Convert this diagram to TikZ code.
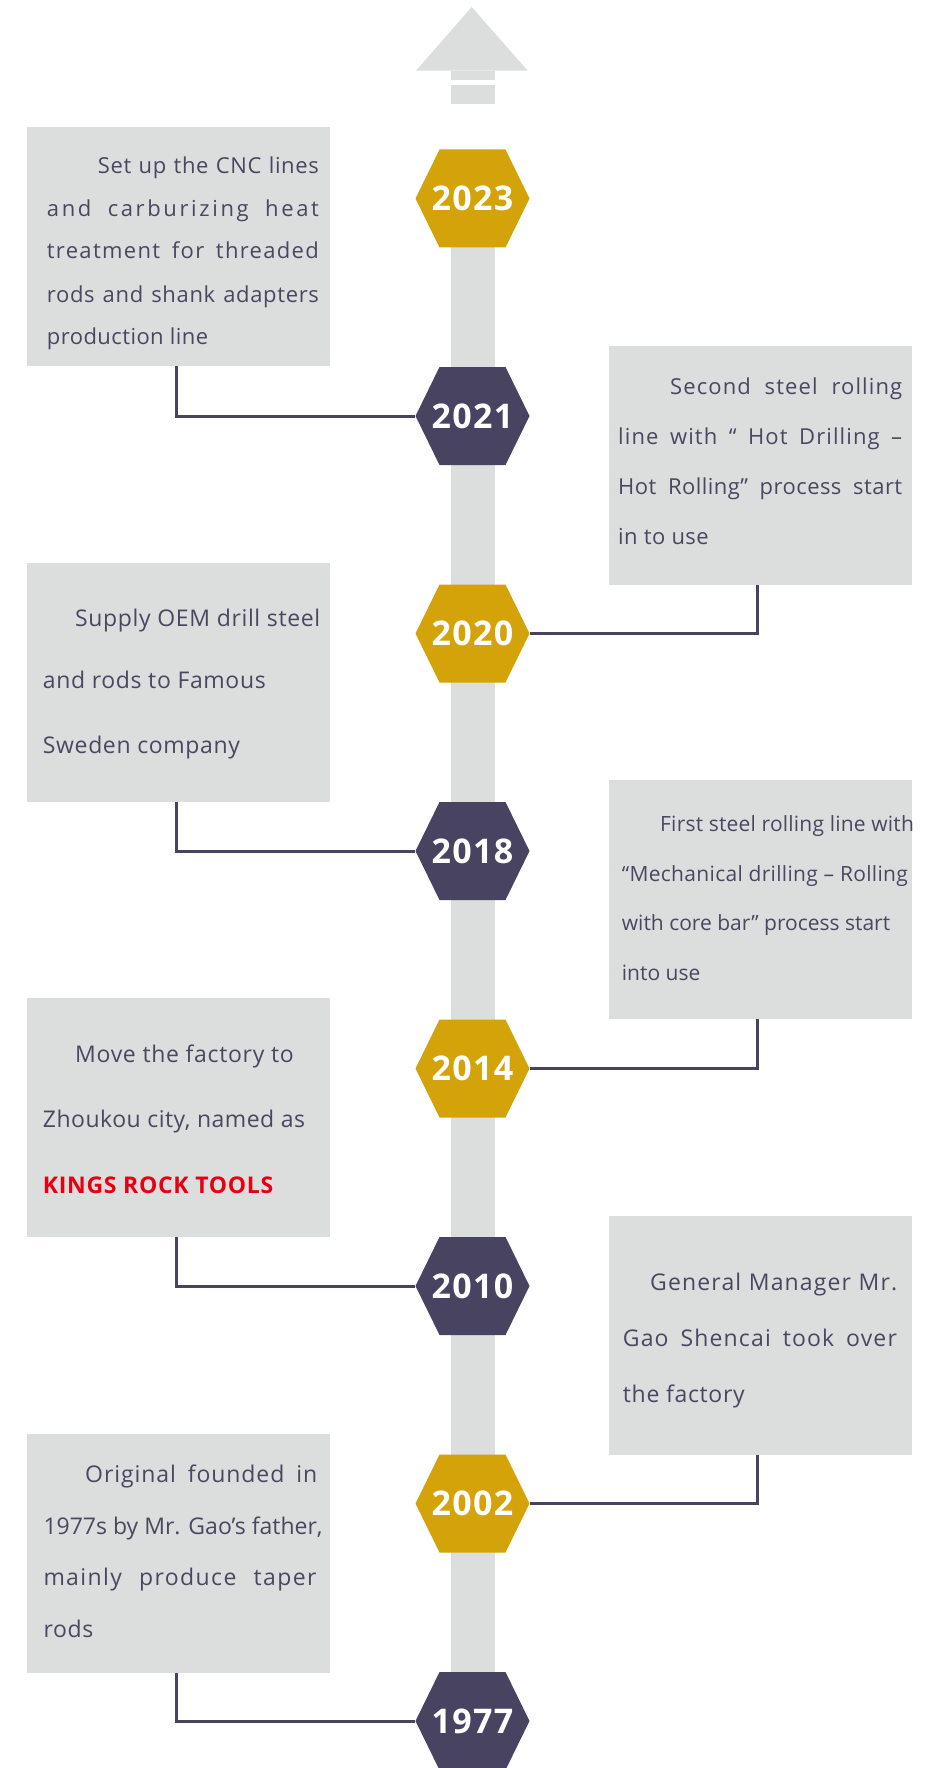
\documentclass[tikz,border=0pt]{standalone}
\usepackage{fontspec}
\setmainfont{Open Sans}
\usetikzlibrary{calc}
\definecolor{hgold}{HTML}{D4A30A}
\definecolor{hdark}{HTML}{484360}
\definecolor{lgrey}{HTML}{DCDDDD}
\definecolor{txtc}{HTML}{4B4761}
\definecolor{kred}{HTML}{E60012}
\newcommand\fsz[1]{\fontsize{#1}{#1}\selectfont}
\newcommand\jl[3]{\makebox[#1pt][s]{\addfontfeature{LetterSpace=#2}#3}}
\newcommand\ls[2]{{\addfontfeature{LetterSpace=#1}#2}}
\tikzset{
  hexn/.style={minimum width=114pt, minimum height=98pt, inner sep=0pt, text=white,
    font=\fsz{34}\bfseries\addfontfeature{LetterSpace=4},
    path picture={\fill[#1] ([xshift=24pt]path picture bounding box.north west) --
      ([xshift=-24pt]path picture bounding box.north east) --
      (path picture bounding box.east) --
      ([xshift=-24pt]path picture bounding box.south east) --
      ([xshift=24pt]path picture bounding box.south west) --
      (path picture bounding box.west) -- cycle;}},
  evbox/.style={fill=lgrey, draw=none, minimum width=303pt, minimum height=239pt, inner sep=0pt, anchor=north west},
  tx/.style={anchor=base west, inner sep=0pt, text=txtc, font=\fsz{#1}},
  conn/.style={draw=hdark, line width=3pt}
}
\begin{document}
\begin{tikzpicture}[x=1pt,y=-1pt]
\useasboundingbox[fill=white] (0,0) rectangle (925,1768);
% top arrow
\fill[lgrey] (471.7,7) -- (527.7,70.7) -- (416,70.7) -- cycle;
\fill[lgrey] (450.5,70.7) rectangle (494.5,80);
\fill[lgrey] (450.5,85) rectangle (494.5,104);
% vertical bar
\fill[lgrey] (450.5,198.5) rectangle (494.5,1721);
% hexagons
\node[hexn=hgold] (h2023) at (472.5,198.5) {2023};
\node[hexn=hdark] (h2021) at (472.5,416) {2021};
\node[hexn=hgold] (h2020) at (472.5,633.5) {2020};
\node[hexn=hdark] (h2018) at (472.5,851) {2018};
\node[hexn=hgold] (h2014) at (472.5,1068.5) {2014};
\node[hexn=hdark] (h2010) at (472.5,1286) {2010};
\node[hexn=hgold] (h2002) at (472.5,1503.5) {2002};
\node[hexn=hdark] (h1977) at (472.5,1721) {1977};
% boxes
\node[evbox] (b1) at (27,127) {};
\node[evbox] (b2) at (609,346) {};
\node[evbox] (b3) at (27,563) {};
\node[evbox] (b4) at (609,780) {};
\node[evbox] (b5) at (27,998) {};
\node[evbox] (b6) at (609,1216) {};
\node[evbox] (b7) at (27,1434) {};
% connectors
\draw[conn] ([xshift=-2.5pt]b1.south) |- (h2021.west);
\draw[conn] ([xshift=-3pt]b2.south) |- (h2020.east);
\draw[conn] ([xshift=-2.5pt]b3.south) |- (h2018.west);
\draw[conn] ([xshift=-3pt]b4.south) |- (h2014.east);
\draw[conn] ([xshift=-2.5pt]b5.south) |- (h2010.west);
\draw[conn] ([xshift=-3pt]b6.south) |- (h2002.east);
\draw[conn] ([xshift=-2.5pt]b7.south) |- (h1977.west);
% box 1
\node[tx=22] (t1a) at (97.7,174) {\jl{221}{3}{Set up the CNC lines}};
\node[tx=22] (t1b) at (46.7,217) {\jl{272}{12}{and carburizing heat}};
\node[tx=22] (t1c) at (46.7,259) {\jl{272}{6}{treatment for threaded}};
\node[tx=22] (t1d) at (46.7,302) {\jl{272}{3}{rods and shank adapters}};
\node[tx=22] (t1e) at (46.7,344) {\ls{2}{production line}};
% box 2
\node[tx=22] (t2a) at (670,394) {\jl{232}{5}{Second steel rolling}};
\node[tx=22] (t2b) at (618,444) {\jl{284}{5}{line with “ Hot Drilling –}};
\node[tx=22] (t2c) at (618,494) {\jl{284}{2}{Hot Rolling” process start}};
\node[tx=22] (t2d) at (618,544) {\ls{2}{in to use}};
% box 3
\node[tx=23] (t3a) at (75,626) {\ls{2.8}{Supply OEM drill steel}};
\node[tx=23] (t3b) at (42.7,688) {\ls{2.8}{and rods to Famous}};
\node[tx=23] (t3c) at (42.7,753) {\ls{2.8}{Sweden company}};
% box 4
\node[tx=21] (t4a) at (660,831) {\ls{1}{First steel rolling line with}};
\node[tx=21] (t4b) at (621.7,881) {\ls{1.5}{“Mechanical drilling – Rolling}};
\node[tx=21] (t4c) at (621.7,930) {with core bar” process start};
\node[tx=21] (t4d) at (621.7,980) {into use};
% box 5
\node[tx=23] (t5a) at (75,1062) {\ls{3}{Move the factory to}};
\node[tx=23] (t5b) at (42.7,1127) {\ls{2.2}{Zhoukou city, named as}};
\node[tx=23, text=kred, font=\fsz{23}\bfseries] (t5c) at (42.7,1193) {\ls{3}{KINGS ROCK TOOLS}};
% box 6
\node[tx=23] (t6a) at (650,1290) {\jl{247}{5}{General Manager Mr.}};
\node[tx=23] (t6b) at (622.7,1346) {\jl{274}{5}{Gao Shencai took over}};
\node[tx=23] (t6c) at (622.7,1402) {\ls{3}{the factory}};
% box 7
\node[tx=23] (t7a) at (85,1482) {\jl{232}{4}{Original founded in}};
\node[tx=23] (t7b) at (43.3,1534) {1977s by Mr. Gao’s father,};
\node[tx=23] (t7c) at (43.3,1585) {\jl{273}{6}{mainly produce taper}};
\node[tx=23] (t7d) at (43.3,1637) {\ls{3}{rods}};
\end{tikzpicture}
\end{document}
